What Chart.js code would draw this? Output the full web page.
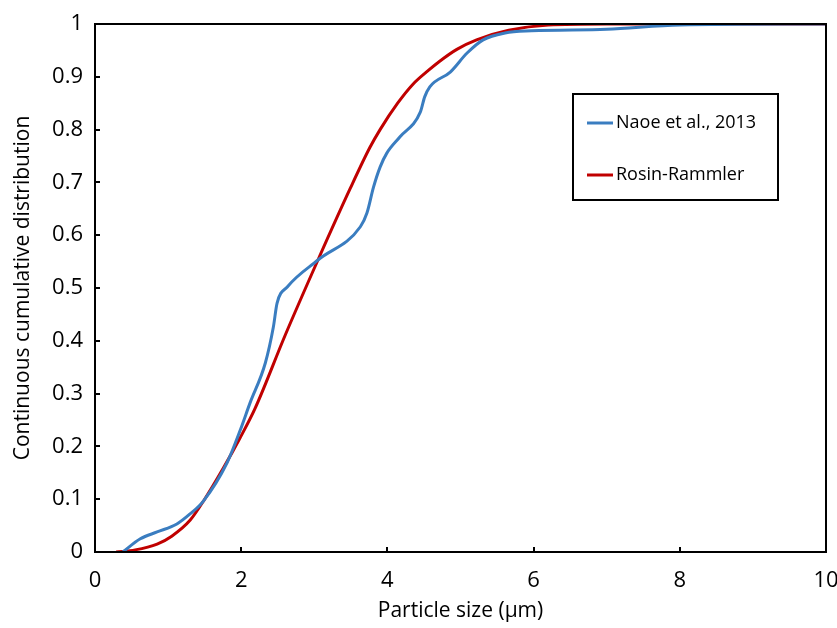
<!DOCTYPE html>
<html>
<head>
<meta charset="utf-8">
<script src="https://cdn.jsdelivr.net/npm/chart.js@4"></script>
<style>
  html, body { margin: 0; padding: 0; background: #fff; }
  #wrap { width: 837px; height: 628px; }
</style>
</head>
<body>
<div id="wrap"><canvas id="chart" width="837" height="628"></canvas></div>
<script>
// Naoe et al., 2013
const naoeX = [0.38, 0.62, 0.85, 1.12, 1.3, 1.48, 1.81, 1.99, 2.12, 2.33, 2.44, 2.49, 2.63, 3.05, 3.63, 3.72, 3.81, 3.9, 3.99, 4.17, 4.45, 4.51, 4.58, 4.86, 5.09, 5.31, 5.61, 5.97, 7.0, 8.0, 10.0];
const naoeY = [0, 0.025, 0.038, 0.053, 0.072, 0.096, 0.17, 0.232, 0.282, 0.358, 0.426, 0.471, 0.502, 0.553, 0.616, 0.642, 0.691, 0.729, 0.755, 0.786, 0.833, 0.862, 0.881, 0.909, 0.945, 0.97, 0.983, 0.987, 0.99, 0.998, 1];

// Rosin-Rammler fit
const rrX = [0.29, 0.55, 0.85, 1.05, 1.3, 1.5, 1.76, 1.98, 2.19, 2.6, 3.05, 3.49, 3.76, 3.9, 4.14, 4.35, 4.56, 4.72, 4.95, 5.22, 5.66, 6.2, 7.0, 10.0];
const rrY = [0, 0.004, 0.015, 0.03, 0.06, 0.1, 0.16, 0.215, 0.272, 0.41, 0.553, 0.688, 0.766, 0.8, 0.85, 0.886, 0.912, 0.93, 0.952, 0.97, 0.988, 0.998, 1, 1];

const xTicks = [0, 2, 4, 6, 8, 10];
const yTicks = [0, 0.1, 0.2, 0.3, 0.4, 0.5, 0.6, 0.7, 0.8, 0.9, 1];

const FONT = "'Open Sans', sans-serif";
const toPoints = (xs, ys) => xs.map((x, i) => ({ x: x, y: ys[i] }));

// frame, inward ticks and the legend box
const framePlugin = {
  id: "frame",
  afterDraw(chart) {
    const ctx = chart.ctx;
    const a = chart.chartArea;
    const xs = chart.scales.x;
    const ys = chart.scales.y;
    ctx.save();
    ctx.strokeStyle = "#000";
    ctx.lineWidth = 2;
    ctx.strokeRect(a.left, a.top, a.right - a.left, a.bottom - a.top);
    ctx.beginPath();
    xTicks.forEach(v => {
      const px = Math.round(xs.getPixelForValue(v));
      ctx.moveTo(px, a.bottom);
      ctx.lineTo(px, a.bottom - 5);
    });
    yTicks.forEach(v => {
      const py = Math.round(ys.getPixelForValue(v));
      ctx.moveTo(a.left, py);
      ctx.lineTo(a.left + 5, py);
    });
    ctx.stroke();

    // legend
    const bx = 573, by = 94, bw = 205, bh = 106;
    ctx.strokeRect(bx, by, bw, bh);
    ctx.font = "18px " + FONT;
    ctx.textBaseline = "middle";
    ctx.fillStyle = "#000";
    chart.data.datasets.forEach((ds, i) => {
      const y = by + 29 + i * 52;
      ctx.strokeStyle = ds.borderColor;
      ctx.lineWidth = 3;
      ctx.beginPath();
      ctx.moveTo(bx + 14, y);
      ctx.lineTo(bx + 40, y);
      ctx.stroke();
      ctx.fillText(ds.label, bx + 43, y);
    });
    ctx.restore();
  }
};

new Chart(document.getElementById("chart").getContext("2d"), {
  type: "scatter",
  data: {
    datasets: [
      {
        label: "Naoe et al., 2013",
        data: toPoints(naoeX, naoeY),
        showLine: true,
        borderColor: "#3a7dc0",
        borderWidth: 3,
        pointRadius: 0,
        cubicInterpolationMode: "monotone"
      },
      {
        label: "Rosin-Rammler",
        data: toPoints(rrX, rrY),
        showLine: true,
        borderColor: "#c00000",
        borderWidth: 3,
        pointRadius: 0,
        cubicInterpolationMode: "monotone"
      }
    ]
  },
  options: {
    responsive: false,
    animation: false,
    layout: { padding: { left: 0, right: 11, top: 24, bottom: 0 } },
    plugins: {
      legend: { display: false },
      tooltip: { enabled: false }
    },
    scales: {
      x: {
        type: "linear",
        min: 0,
        max: 10,
        afterBuildTicks: (s) => { s.ticks = xTicks.map(v => ({ value: v })); },
        afterFit: (s) => { s.height = 76; s.paddingLeft = 0; s.paddingRight = 0; },
        grid: { display: false },
        border: { display: false },
        ticks: { color: "#000", padding: 8, font: { family: FONT, size: 22 }, maxRotation: 0 },
        title: {
          display: true,
          text: "Particle size (μm)",
          color: "#000",
          font: { family: FONT, size: 21 },
          padding: { top: 0, bottom: 4 }
        }
      },
      y: {
        type: "linear",
        min: 0,
        max: 1,
        afterBuildTicks: (s) => { s.ticks = yTicks.map(v => ({ value: v })); },
        afterFit: (s) => { s.width = 95; s.paddingTop = 0; s.paddingBottom = 0; },
        grid: { display: false },
        border: { display: false },
        ticks: {
          color: "#000",
          padding: 4,
          font: { family: FONT, size: 22 },
          callback: (v) => String(Math.round(v * 10) / 10)
        },
        title: {
          display: true,
          text: "Continuous cumulative distribution",
          color: "#000",
          font: { family: FONT, size: 21 },
          padding: { top: 10, bottom: 0 }
        }
      }
    }
  },
  plugins: [framePlugin]
});
</script>
</body>
</html>
